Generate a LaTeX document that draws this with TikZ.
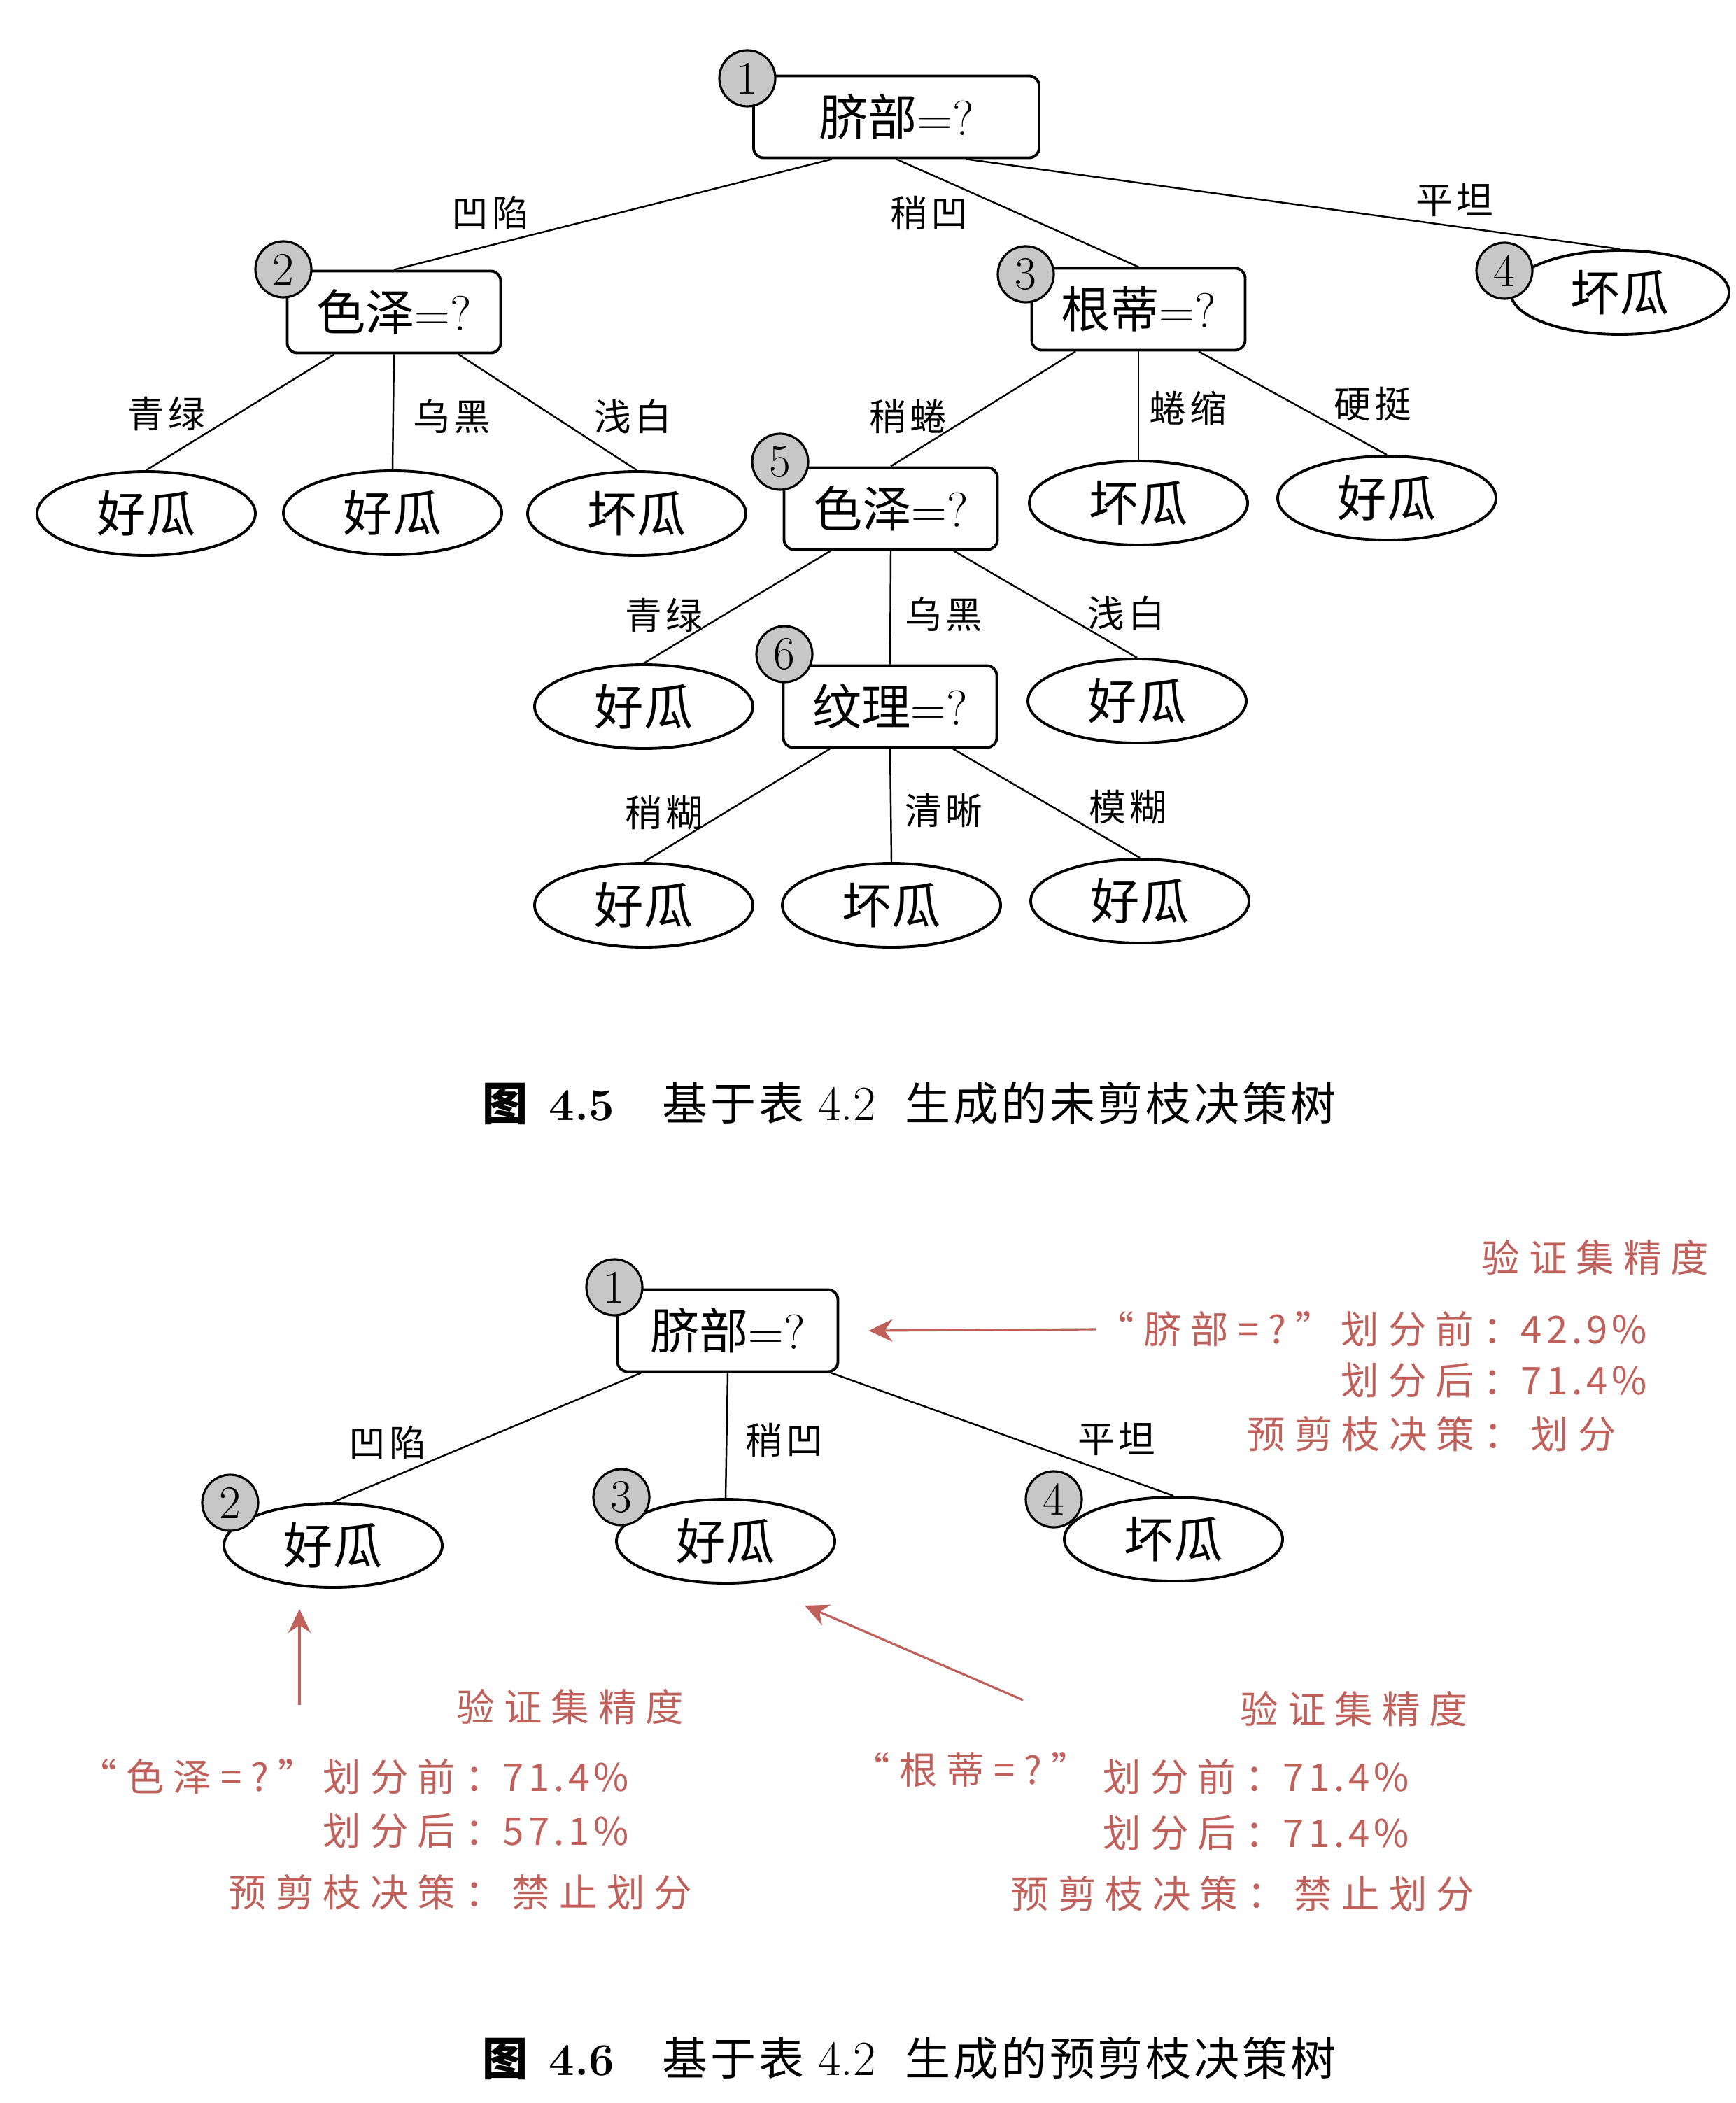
\documentclass[tikz,border=0pt]{standalone}
\usepackage{fontspec}
\usetikzlibrary{shapes.geometric,arrows.meta}
\newfontfamily\cjk{Noto Sans CJK SC}
\newfontfamily\cjklab[LetterSpace=11]{Noto Sans CJK SC}
\newfontfamily\cjkann[LetterSpace=24]{Noto Sans CJK SC}
\newfontfamily\cjkcap[LetterSpace=6]{Noto Sans CJK SC}
\definecolor{annred}{RGB}{192,96,90}

\begin{document}
\begin{tikzpicture}[
  box/.style={draw, line width=1.1pt, rounded corners=4pt, minimum width=3.05cm, minimum height=1.17cm, inner sep=0pt, font=\fontsize{20}{20}\selectfont},
  leaf/.style={draw, ellipse, line width=1.1pt, minimum width=3.12cm, minimum height=1.2cm, inner sep=0pt, font=\cjk\fontsize{20}{20}\selectfont},
  num/.style={draw, circle, fill=black!22, line width=0.9pt, minimum size=0.8cm, inner sep=0pt, font=\fontsize{19}{19}\selectfont},
  lab/.style={font=\cjklab\fontsize{15}{15}\selectfont},
  edge/.style={line width=0.7pt},
  ann/.style={anchor=west, inner sep=0pt, text=annred, font=\cjkann\fontsize{15.5}{15.5}\selectfont},
  annarrow/.style={draw=annred, line width=0.9pt, -{Stealth[length=3.4mm,width=3.2mm]}},
  capt/.style={anchor=west, inner sep=0pt, font=\fontsize{18.5}{18.5}\selectfont}]

\useasboundingbox (0,0) rectangle (24.8,-30.06);

% unpruned tree
\node[box, minimum width=4.08cm] (t1) at (12.81,-1.67) {{\cjk 脐部}=?};
\node[box] (t2) at (5.63,-4.46) {{\cjk 色泽}=?};
\node[box] (t3) at (16.27,-4.42) {{\cjk 根蒂}=?};
\node[leaf] (t4) at (23.15,-4.18) {坏瓜};
\node[leaf] (a1) at (2.09,-7.34) {好瓜};
\node[leaf] (a2) at (5.61,-7.33) {好瓜};
\node[leaf] (a3) at (9.10,-7.34) {坏瓜};
\node[box] (t5) at (12.73,-7.27) {{\cjk 色泽}=?};
\node[leaf] (b2) at (16.27,-7.19) {坏瓜};
\node[leaf] (b3) at (19.82,-7.12) {好瓜};
\node[leaf] (c1) at (9.20,-10.10) {好瓜};
\node[box] (t6) at (12.72,-10.10) {{\cjk 纹理}=?};
\node[leaf] (c3) at (16.25,-10.02) {好瓜};
\node[leaf] (d1) at (9.20,-12.94) {好瓜};
\node[leaf] (d2) at (12.74,-12.94) {坏瓜};
\node[leaf] (d3) at (16.29,-12.88) {好瓜};

\draw[edge] ([xshift=-0.92cm]t1.south) -- (t2.north);
\draw[edge] (t1.south) -- (t3.north);
\draw[edge] ([xshift=1cm]t1.south) -- (t4.north);
\draw[edge] ([xshift=-0.85cm]t2.south) -- (a1.north);
\draw[edge] (t2.south) -- (a2.north);
\draw[edge] ([xshift=0.92cm]t2.south) -- (a3.north);
\draw[edge] ([xshift=-0.9cm]t3.south) -- (t5.north);
\draw[edge] (t3.south) -- (b2.north);
\draw[edge] ([xshift=0.86cm]t3.south) -- (b3.north);
\draw[edge] ([xshift=-0.86cm]t5.south) -- (c1.north);
\draw[edge] (t5.south) -- (t6.north);
\draw[edge] ([xshift=0.9cm]t5.south) -- (c3.north);
\draw[edge] ([xshift=-0.86cm]t6.south) -- (d1.north);
\draw[edge] (t6.south) -- (d2.north);
\draw[edge] ([xshift=0.9cm]t6.south) -- (d3.north);

\node[num] (k1) at (10.68,-1.12) {1};
\node[num] (k2) at (4.05,-3.85) {2};
\node[num] (k3) at (14.66,-3.92) {3};
\node[num] (k4) at (21.50,-3.87) {4};
\node[num] (k5) at (11.15,-6.60) {5};
\node[num] (k6) at (11.21,-9.35) {6};

\node[lab] (l1) at (7.01,-3.04) {凹陷};
\node[lab] (l2) at (13.28,-3.04) {稍凹};
\node[lab] (l3) at (20.79,-2.86) {平坦};
\node[lab] (l4) at (2.38,-5.92) {青绿};
\node[lab] (l5) at (6.46,-5.95) {乌黑};
\node[lab] (l6) at (9.05,-5.95) {浅白};
\node[lab] (l7) at (12.98,-5.95) {稍蜷};
\node[lab] (l8) at (16.98,-5.83) {蜷缩};
\node[lab] (l9) at (19.62,-5.78) {硬挺};
\node[lab] (l10) at (9.49,-8.80) {青绿};
\node[lab] (l11) at (13.49,-8.78) {乌黑};
\node[lab] (l12) at (16.10,-8.76) {浅白};
\node[lab] (l13) at (9.49,-11.62) {稍糊};
\node[lab] (l14) at (13.49,-11.58) {清晰};
\node[lab] (l15) at (16.12,-11.54) {模糊};

\node[capt] (cap1) at (6.89,-15.77) {{\cjk\bfseries 图}\hspace{0.3cm}\textbf{4.5}\hspace{0.68cm}{\cjkcap 基于表}\hspace{0.2cm}{\fontsize{20}{20}\selectfont 4.2}\hspace{0.42cm}{\cjkcap 生成的未剪枝决策树}};

% pre-pruned tree
\node[box, minimum width=3.15cm] (r1) at (10.40,-19.02) {{\cjk 脐部}=?};
\node[leaf] (e1) at (4.76,-22.09) {好瓜};
\node[leaf] (e2) at (10.37,-22.03) {好瓜};
\node[leaf] (e3) at (16.77,-22.00) {坏瓜};

\draw[edge] ([xshift=-1.24cm]r1.south) -- (e1.north);
\draw[edge] (r1.south) -- (e2.north);
\draw[edge] ([xshift=1.48cm]r1.south) -- (e3.north);

\node[num] (kb1) at (8.78,-18.40) {1};
\node[num] (kb2) at (3.29,-21.48) {2};
\node[num] (kb3) at (8.88,-21.40) {3};
\node[num] (kb4) at (15.06,-21.43) {4};

\node[lab] (m1) at (5.54,-20.62) {凹陷};
\node[lab] (m2) at (11.21,-20.58) {稍凹};
\node[lab] (m3) at (15.96,-20.57) {平坦};

% validation notes
\node[ann, anchor=center] (v1) at (22.80,-17.98) {验证集精度};
\node[ann] (q1) at (15.66,-19.0) {“脐部=?”};
\node[ann] (p1) at (19.16,-19.0) {划分前：{\cjklab 42.9\%}};
\node[ann] (p2) at (19.16,-19.73) {划分后：{\cjklab 71.4\%}};
\node[ann] (p3) at (17.82,-20.50) {预剪枝决策：划分};
\draw[annarrow] (q1.west) -- ([xshift=0.42cm]r1.east);

\node[ann, anchor=center] (v2) at (8.15,-24.40) {验证集精度};
\node[ann] (q2) at (1.12,-25.40) {“色泽=?”};
\node[ann] (p4) at (4.61,-25.40) {划分前：{\cjklab 71.4\%}};
\node[ann] (p5) at (4.61,-26.17) {划分后：{\cjklab 57.1\%}};
\node[ann] (p6) at (3.26,-27.05) {预剪枝决策：禁止划分};
\coordinate (tailL) at (4.28,-24.37);
\draw[annarrow] (tailL) -- ([xshift=-0.48cm,yshift=-0.29cm]e1.south);

\node[ann, anchor=center] (v3) at (19.35,-24.43) {验证集精度};
\node[ann] (q3) at (12.17,-25.30) {“根蒂=?”};
\node[ann] (p7) at (15.76,-25.40) {划分前：{\cjklab 71.4\%}};
\node[ann] (p8) at (15.76,-26.20) {划分后：{\cjklab 71.4\%}};
\node[ann] (p9) at (14.44,-27.07) {预剪枝决策：禁止划分};
\coordinate (tailR) at (14.62,-24.30);
\draw[annarrow] (tailR) -- ([xshift=1.13cm,yshift=-0.30cm]e2.south);

\node[capt] (cap2) at (6.89,-29.42) {{\cjk\bfseries 图}\hspace{0.3cm}\textbf{4.6}\hspace{0.68cm}{\cjkcap 基于表}\hspace{0.2cm}{\fontsize{20}{20}\selectfont 4.2}\hspace{0.42cm}{\cjkcap 生成的预剪枝决策树}};
\end{tikzpicture}
\end{document}
